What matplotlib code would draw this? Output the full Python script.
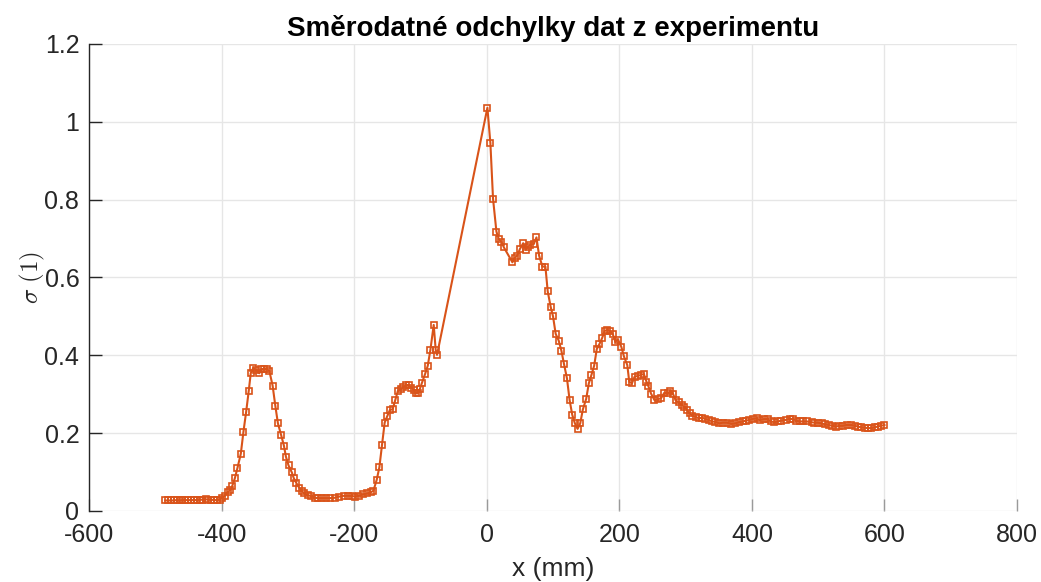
import matplotlib
matplotlib.use("Agg")
import matplotlib.pyplot as plt
import numpy as np

plt.rcParams["font.family"] = ["Liberation Sans", "DejaVu Sans"]
plt.rcParams["mathtext.fontset"] = "cm"

# Position along the measured line (mm)
x_mm = [
    -485, -481, -476, -472, -468, -463, -459, -455, -450, -446,
    -442, -437, -433, -429, -424, -420, -416, -411, -407, -403,
    -400, -395, -391, -387, -384, -380, -376, -371, -367, -363,
    -359, -356, -352, -348, -343, -340, -336, -332, -328, -323,
    -319, -315, -310, -306, -303, -299, -294, -291, -287, -283,
    -279, -275, -270, -265, -259, -254, -248, -242, -237, -229,
    -223, -216, -209, -204, -199, -193, -186, -180, -175, -171,
    -166, -162, -158, -154, -150, -146, -142, -138, -134, -130,
    -126, -122, -118, -114, -110, -107, -104, -101, -98, -93,
    -89, -85, -80, -77, -75,
    1, 5.5, 9.5, 14.6, 18, 22, 26, 38.7, 42, 46,
    50, 55, 59, 62, 66, 71, 75, 79, 84, 88.5,
    92, 96.5, 100, 104, 108.5, 112.6, 116.5, 121, 125, 129,
    133, 137, 141, 145, 150, 154, 158, 162, 166, 170,
    174, 178, 182, 186, 190, 194, 198, 203, 207, 212,
    215, 219, 223, 228, 233, 237, 241, 244, 248, 253,
    258, 263, 268, 273, 277, 281, 285, 290, 294, 298,
    302, 306, 310, 315, 320, 325, 330, 335, 340, 345,
    351, 356, 362, 369, 375, 380, 386, 391, 396, 402,
    407, 412, 418, 424, 429, 434, 439, 444, 451, 457,
    462, 467, 472, 477, 483, 490, 494, 499, 505, 510,
    516, 521, 527, 532, 537, 543, 550, 555, 560, 565,
    570, 575, 580, 585, 590, 595, 600,
]

# Standard deviation at each position
sigma = [
    0.027, 0.027, 0.027, 0.027, 0.028, 0.027, 0.028, 0.028, 0.028, 0.028,
    0.028, 0.028, 0.029, 0.029, 0.030, 0.029, 0.029, 0.028, 0.028, 0.029,
    0.033, 0.039, 0.048, 0.054, 0.064, 0.084, 0.111, 0.147, 0.204, 0.254,
    0.309, 0.354, 0.368, 0.362, 0.354, 0.365, 0.365, 0.365, 0.360, 0.322,
    0.271, 0.225, 0.194, 0.168, 0.140, 0.117, 0.099, 0.084, 0.071, 0.060,
    0.051, 0.045, 0.041, 0.038, 0.034, 0.033, 0.033, 0.033, 0.033, 0.034,
    0.037, 0.039, 0.039, 0.039, 0.037, 0.039, 0.043, 0.045, 0.048, 0.052,
    0.080, 0.112, 0.170, 0.227, 0.244, 0.260, 0.261, 0.285, 0.309, 0.313,
    0.318, 0.323, 0.324, 0.317, 0.311, 0.302, 0.302, 0.313, 0.328, 0.352,
    0.373, 0.414, 0.478, 0.414, 0.401,
    1.036, 0.945, 0.802, 0.718, 0.699, 0.692, 0.677, 0.639, 0.650, 0.656,
    0.673, 0.688, 0.671, 0.679, 0.684, 0.686, 0.703, 0.656, 0.628, 0.628,
    0.564, 0.524, 0.500, 0.455, 0.438, 0.412, 0.378, 0.341, 0.285, 0.247,
    0.225, 0.211, 0.225, 0.261, 0.288, 0.328, 0.350, 0.373, 0.416, 0.429,
    0.444, 0.463, 0.465, 0.463, 0.455, 0.435, 0.440, 0.422, 0.397, 0.375,
    0.332, 0.328, 0.345, 0.347, 0.350, 0.352, 0.332, 0.320, 0.301, 0.285,
    0.287, 0.290, 0.304, 0.302, 0.309, 0.301, 0.284, 0.279, 0.272, 0.268,
    0.260, 0.251, 0.245, 0.242, 0.238, 0.240, 0.236, 0.234, 0.230, 0.229,
    0.225, 0.227, 0.227, 0.224, 0.225, 0.228, 0.230, 0.232, 0.234, 0.237,
    0.238, 0.234, 0.236, 0.236, 0.230, 0.228, 0.230, 0.232, 0.234, 0.237,
    0.236, 0.232, 0.230, 0.230, 0.230, 0.228, 0.227, 0.227, 0.225, 0.223,
    0.221, 0.219, 0.217, 0.219, 0.219, 0.221, 0.221, 0.219, 0.217, 0.215,
    0.214, 0.213, 0.213, 0.215, 0.217, 0.219, 0.221,
]

x_ticks = [-600, -400, -200, 0, 200, 400, 600, 800]
y_ticks = [0, 0.2, 0.4, 0.6, 0.8, 1.0, 1.2]
y_tick_labels = ["0", "0.2", "0.4", "0.6", "0.8", "1", "1.2"]

line_color = "#D95319"
axis_gray = "#262626"

fig = plt.figure(figsize=(10.41, 5.82), dpi=100)
ax = fig.add_axes([0.0855, 0.122, 0.8915, 0.8025])

ax.plot(x_mm, sigma, color=line_color, linewidth=1.5,
        marker="s", markersize=5.0, markerfacecolor="none",
        markeredgecolor=line_color, markeredgewidth=1.2)

ax.set_xlim(-600, 800)
ax.set_ylim(0, 1.2)
ax.set_xticks(x_ticks)
ax.set_xticklabels([str(t) for t in x_ticks])
ax.set_yticks(y_ticks)
ax.set_yticklabels(y_tick_labels)

ax.grid(True, color="#e6e6e6", linewidth=1.0)
ax.set_axisbelow(True)

for side in ("top", "right", "bottom"):
    ax.spines[side].set_visible(False)
ax.spines["left"].set_color(axis_gray)
ax.spines["left"].set_linewidth(1.0)

ax.tick_params(axis="both", direction="in", length=9, width=1.0,
               colors=axis_gray, labelsize=18)
ax.tick_params(axis="y", pad=7)
ax.tick_params(axis="x", pad=9, color="#9a9a9a")

ax.set_title("Směrodatné odchylky dat z experimentu", fontsize=20,
             fontweight="bold", color="black", pad=6)
ax.set_xlabel("x (mm)", fontsize=19, color=axis_gray, labelpad=7)
ax.set_ylabel(r"$\sigma\ (1)$", fontsize=18, color=axis_gray, labelpad=-2)

fig.savefig("out.png", dpi=100)
